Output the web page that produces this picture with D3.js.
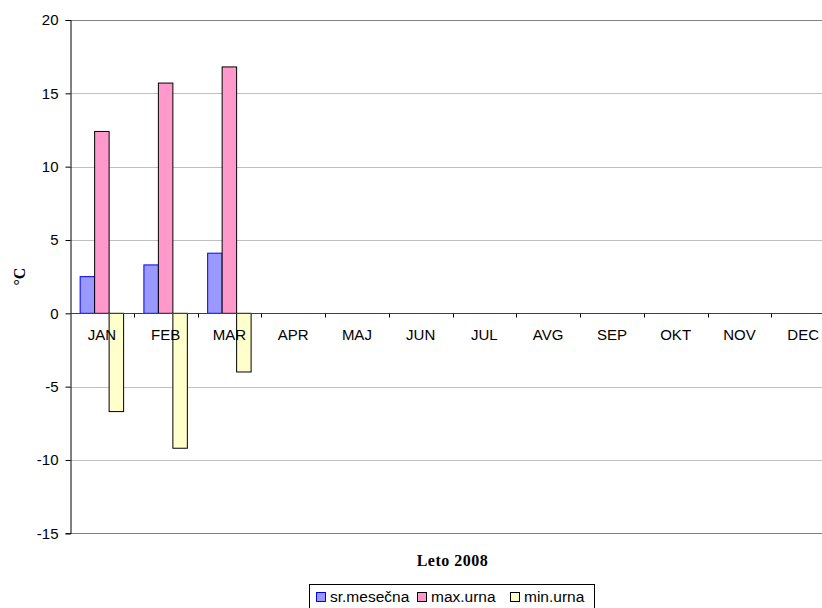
<!DOCTYPE html>
<html>
<head>
<meta charset="utf-8">
<script src="https://cdn.jsdelivr.net/npm/d3@7"></script>
<style>
  html, body { margin: 0; padding: 0; background: #fff; }
  svg { display: block; }
</style>
</head>
<body>
<svg id="chart" width="822" height="608"></svg>
<script>
const months = ["JAN","FEB","MAR","APR","MAJ","JUN","JUL","AVG","SEP","OKT","NOV","DEC"];
const seriesNames = ["sr.mesečna","max.urna","min.urna"];
const srMesecna = [2.5, 3.3, 4.1, null, null, null, null, null, null, null, null, null];
const maxUrna   = [12.4, 15.7, 16.8, null, null, null, null, null, null, null, null, null];
const minUrna   = [-6.7, -9.2, -4.0, null, null, null, null, null, null, null, null, null];
const yTicks = [-15, -10, -5, 0, 5, 10, 15, 20];
const xTitle = "Leto 2008";
const yTitle = "°C";

const seriesValues = [srMesecna, maxUrna, minUrna];
const fills = ["#9999FF", "#FF99CC", "#FFFFCC"];
const strokes = ["#0000FF", "#000000", "#000000"];

const svg = d3.select("#chart");
const pLeft = 70, pRight = 835, pTop = 20, pBottom = 533.3;

const x = d3.scaleBand().domain(months).range([pLeft, pRight]).padding(0);
const xs = d3.scaleBand().domain(seriesNames).range([0, x.bandwidth()]).paddingInner(0).paddingOuter(0.7);
const y = d3.scaleLinear().domain([-15, 20]).range([pBottom, pTop]);

const labelFont = "'Liberation Sans', Arial, sans-serif";
const titleFont = "'Liberation Serif', 'Times New Roman', serif";

// gridlines
svg.append("g").selectAll("line").data(yTicks.filter(d => d !== 0 && d !== 20 && d !== -15)).join("line")
  .attr("x1", pLeft).attr("x2", pRight)
  .attr("y1", d => Math.round(y(d)) + 0.5).attr("y2", d => Math.round(y(d)) + 0.5)
  .attr("stroke", "#C0C0C0").attr("stroke-width", 1);

// plot border top/bottom
svg.append("g").selectAll("line").data([20, -15]).join("line")
  .attr("x1", pLeft).attr("x2", pRight)
  .attr("y1", d => Math.round(y(d)) + 0.5).attr("y2", d => Math.round(y(d)) + 0.5)
  .attr("stroke", "#808080").attr("stroke-width", 1);

// bars data
const data = [];
months.forEach((m, i) => {
  seriesNames.forEach((s, j) => {
    const v = seriesValues[j][i];
    if (v !== null) data.push({ m, s, v, j });
  });
});

// bars
svg.append("g").selectAll("rect").data(data).join("rect")
  .attr("x", d => x(d.m) + xs(d.s))
  .attr("width", xs.bandwidth())
  .attr("y", d => y(Math.max(0, d.v)))
  .attr("height", d => Math.abs(y(d.v) - y(0)))
  .attr("fill", d => fills[d.j])
  .attr("stroke", d => strokes[d.j])
  .attr("stroke-width", 1);

// y axis
const yAxis = svg.append("g")
  .attr("transform", `translate(${pLeft + 0.5},0)`)
  .call(d3.axisLeft(y).tickValues(yTicks).tickSize(5).tickPadding(7).tickFormat(d => String(d)));
yAxis.select(".domain").attr("stroke", "#000");
yAxis.selectAll(".tick line").attr("stroke", "#000");
yAxis.selectAll("text").attr("font-family", labelFont).attr("font-size", 15).attr("fill", "#000");

// zero line and category ticks
const zeroY = Math.round(y(0)) + 0.5;
svg.append("line").attr("x1", pLeft).attr("x2", pRight).attr("y1", zeroY).attr("y2", zeroY)
  .attr("stroke", "#404040").attr("stroke-width", 1.2);
const boundaries = months.map(m => x(m) + x.bandwidth());
svg.append("g").selectAll("line").data(boundaries).join("line")
  .attr("x1", d => Math.round(d) + 0.5).attr("x2", d => Math.round(d) + 0.5)
  .attr("y1", zeroY).attr("y2", zeroY + 4)
  .attr("stroke", "#000");

// x axis labels (drawn over the bars, as in the reference)
const xAxis = svg.append("g")
  .attr("transform", `translate(0,${zeroY})`)
  .call(d3.axisBottom(x).tickSize(0).tickPadding(16));
xAxis.select(".domain").remove();
xAxis.selectAll("text").attr("font-family", labelFont).attr("font-size", 15).attr("fill", "#000");

// titles
svg.append("text")
  .attr("x", (pLeft + pRight) / 2).attr("y", 566)
  .attr("text-anchor", "middle")
  .attr("font-family", titleFont).attr("font-weight", "bold").attr("font-size", 16)
  .attr("letter-spacing", 0.5)
  .text(xTitle);
svg.append("text")
  .attr("transform", `translate(25,${(pTop + pBottom) / 2}) rotate(-90)`)
  .attr("text-anchor", "middle")
  .attr("font-family", titleFont).attr("font-weight", "bold").attr("font-size", 16)
  .text(yTitle);

// legend
const legend = svg.append("g");
legend.append("rect").attr("x", 309.5).attr("y", 584.5).attr("width", 285).attr("height", 40)
  .attr("fill", "#fff").attr("stroke", "#000");
const legendX = [316, 417, 510];
seriesNames.forEach((s, j) => {
  legend.append("rect").attr("x", legendX[j] + 0.5).attr("y", 592.5).attr("width", 9).attr("height", 9)
    .attr("fill", fills[j]).attr("stroke", strokes[j]);
  legend.append("text").attr("x", legendX[j] + 14).attr("y", 602)
    .attr("font-family", labelFont).attr("font-size", 15.5).attr("fill", "#000")
    .text(s);
});
</script>
</body>
</html>
